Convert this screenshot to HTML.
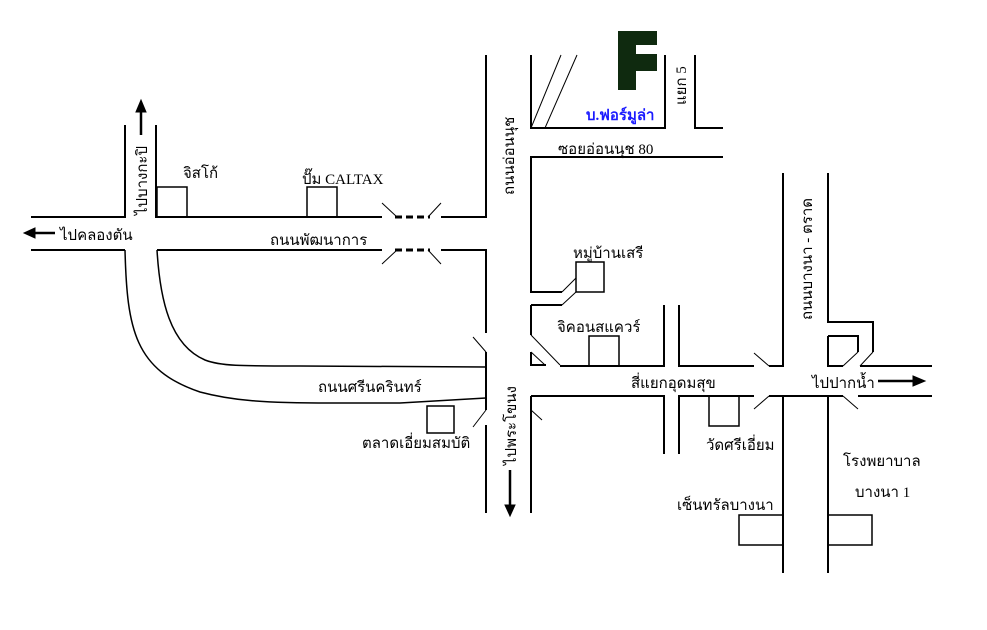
<!DOCTYPE html>
<html><head><meta charset="utf-8"><style>
html,body{margin:0;padding:0;background:#fff;}
svg{display:block;}
text{font-family:"Liberation Serif","Noto Sans CJK SC",serif;font-size:15px;fill:#000;}
</style></head><body>
<svg width="987" height="630" viewBox="0 0 987 630" xmlns="http://www.w3.org/2000/svg">
<g stroke="#000" stroke-width="2" fill="none">
<!-- Phatthanakan road -->
<path d="M31,217H125V125"/>
<path d="M156,125V217H382"/>
<path d="M441,217H486V55"/>
<path d="M31,250H125"/>
<path d="M157,250H382"/>
<path d="M441,250H486V333"/>
<!-- dashes -->
<path d="M395,217H430M395,250H430" stroke-dasharray="7,4" stroke-width="3"/>
<path d="M382,203L397,217M441,203L428,217M382,264L397,250M441,264L428,250" stroke-width="1"/>
<!-- curves -->
<path d="M125,250C127,330 135,370 200,392C230,400 260,403 330,403L400,403L486,398" stroke-width="1.5"/>
<path d="M157,250C160,300 170,345 205,360C220,366 240,366 300,366L486,367" stroke-width="1.5"/>
<!-- Onnut vertical -->
<path d="M486,352V410M486,425V513"/>
<path d="M473,337L486,352M486,410L473,427" stroke-width="1"/>
<path d="M531,55V128H665V55"/>
<path d="M695,55V128H723"/>
<path d="M531,128L561,55M545,128L577,55" stroke-width="1"/>
<path d="M723,157H531V292H562"/>
<path d="M531,305H562"/>
<path d="M562,292L576,278M562,305L576,292" stroke-width="1"/>
<path d="M531,305V335"/>
<path d="M531,335L560,365M531,352L545,365M531,410L542,420" stroke-width="1"/>
<path d="M531,352V365H546"/>
<path d="M531,396V513"/>
<!-- main road -->
<path d="M560,366H664V305M679,305V366H754"/>
<path d="M769,366H783V173M828,173V322H873V352"/>
<path d="M873,352L860,366M858,352L843,366" stroke-width="1"/>
<path d="M828,336H858V352"/>
<path d="M828,336V366H843M860,366H932"/>
<path d="M531,396H664V454M679,454V396H754"/>
<path d="M769,396H843M858,396H932"/>
<path d="M783,396V573M828,396V573"/>
<path d="M754,353L769,366M754,409L769,396M843,396L858,409" stroke-width="1"/>
<!-- boxes -->
<g stroke-width="1.5">
<rect x="157" y="187" width="30" height="30"/>
<rect x="307" y="187" width="30" height="30"/>
<rect x="576" y="262" width="28" height="30"/>
<rect x="589" y="336" width="30" height="30"/>
<rect x="709" y="396" width="30" height="30"/>
<rect x="427" y="406" width="27" height="27"/>
<rect x="739" y="515" width="44" height="30"/>
<rect x="828" y="515" width="44" height="30"/>
</g>
</g>
<!-- arrows -->
<g fill="#000" stroke="#000" stroke-width="2.5">
<path d="M141,135V112"/><path d="M136,112L141,100L146,112Z" stroke-width="1"/>
<path d="M55,233H35"/><path d="M35,228L24,233L35,238Z" stroke-width="1"/>
<path d="M510,470V505"/><path d="M505,505L510,516L515,505Z" stroke-width="1"/>
<path d="M878,381H913"/><path d="M913,376L925,381L913,386Z" stroke-width="1"/>
</g>
<!-- F logo -->
<path d="M618,31H657V45H636V54H657V71H636V90H618Z" fill="#0f2a0f"/>
<!-- labels -->
<text x="183" y="178">จิสโก้</text>
<text x="302" y="184">ปั๊ม CALTAX</text>
<text x="60" y="240">ไปคลองตัน</text>
<text x="270" y="245">ถนนพัฒนาการ</text>
<text x="558" y="154">ซอยอ่อนนุช 80</text>
<text x="586" y="120" style="fill:#1a1aff;font-weight:bold;">บ.ฟอร์มูล่า</text>
<text x="573" y="258">หมู่บ้านเสรี</text>
<text x="557" y="332">จิคอนสแควร์</text>
<text x="631" y="388">สี่แยกอุดมสุข</text>
<text x="812" y="388">ไปปากน้ำ</text>
<text x="318" y="392">ถนนศรีนครินทร์</text>
<text x="362" y="448">ตลาดเอี่ยมสมบัติ</text>
<text x="706" y="450">วัดศรีเอี่ยม</text>
<text x="843" y="466">โรงพยาบาล</text>
<text x="855" y="497">บางนา 1</text>
<text x="677" y="510">เซ็นทรัลบางนา</text>
<text transform="translate(147,215) rotate(-90)">ไปบางกะปิ</text>
<text transform="translate(514,195) rotate(-90)">ถนนอ่อนนุช</text>
<text transform="translate(686,105) rotate(-90)">แยก 5</text>
<text transform="translate(812,320) rotate(-90)">ถนนบางนา - ตราด</text>
<text transform="translate(516,465) rotate(-90)">ไปพระโขนง</text>
</svg>
</body></html>
